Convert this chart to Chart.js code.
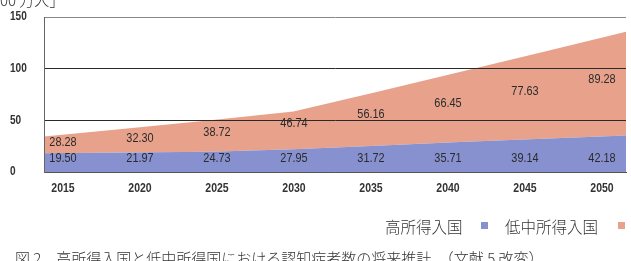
<!DOCTYPE html>
<html>
<head>
<meta charset="utf-8">
<script src="https://cdn.jsdelivr.net/npm/chart.js@4.4.1/dist/chart.umd.min.js"></script>
<style>
  html, body { margin: 0; padding: 0; background: #fff; }
  #wrap { position: relative; width: 631px; height: 261px; overflow: hidden; }
  #chartBox { position: absolute; left: 0; top: 0; width: 631px; height: 261px; }
  .jp { position: absolute; font-family: "Noto Sans CJK JP", sans-serif; color: #333; font-weight: 300; white-space: nowrap; line-height: 1; }
  .sq { position: absolute; width: 7px; height: 7px; }
</style>
</head>
<body>
<div id="wrap">
  <div id="chartBox"><canvas id="c"></canvas></div>
  <div class="jp" style="left:0px; top:-8px; font-size:15px;">00 万人」</div>
  <div class="jp" style="left:385px; top:219px; font-size:15.5px;">高所得入国</div>
  <div class="sq" style="left:481px; top:222px; background:#8791cf;"></div>
  <div class="jp" style="left:505px; top:219px; font-size:15.5px;">低中所得入国</div>
  <div class="sq" style="left:618px; top:222px; background:#e8a28b;"></div>
  <div class="jp" style="left:15px; top:250px; font-size:15px;">図 2　高所得入国と低中所得国における認知症者数の将来推計　（文献 5 改変）</div>
</div>
<script>
// ---- data ----
const categories = ['2015', '2020', '2025', '2030', '2035', '2040', '2045', '2050'];
// printed values
const highIncomeLabels = [19.50, 21.97, 24.73, 27.95, 31.72, 35.71, 39.14, 42.18];
const lowMidLabels = [28.28, 32.30, 38.72, 46.74, 56.16, 66.45, 77.63, 89.28];
// area heights as drawn in the picture (stacked)
const highIncomeArea = [18.2, 18.9, 19.5, 22.0, 25.5, 29.0, 32.2, 35.4];
const lowMidArea = [16.2, 23.3, 30.5, 36.5, 51.9, 67.7, 84.0, 100.3];
const yTicks = [0, 50, 100, 150];

const FONT = "'Liberation Sans', Arial, sans-serif";
const BLUE_LABEL_LEVEL = 13;
const SQUEEZE = 0.84;

function narrowText(ctx, text, x, y, align) {
  ctx.save();
  ctx.translate(x, y);
  ctx.scale(SQUEEZE, 1);
  ctx.textAlign = align;
  ctx.fillText(text, 0, 0);
  ctx.restore();
}

const valueLabels = {
  id: 'valueLabels',
  afterDatasetsDraw(chart) {
    const { ctx, scales } = chart;
    const xs = scales.xt, ys = scales.y;
    ctx.save();
    ctx.font = '13px ' + FONT;
    ctx.fillStyle = '#2b2b2b';
    ctx.textBaseline = 'middle';
    categories.forEach((c, i) => {
      const x = xs.getPixelForValue(i);
      narrowText(ctx, lowMidLabels[i].toFixed(2), x, ys.getPixelForValue(lowMidLabels[i]), 'center');
      narrowText(ctx, highIncomeLabels[i].toFixed(2), x, ys.getPixelForValue(BLUE_LABEL_LEVEL), 'center');
    });
    ctx.restore();
  },
  afterDraw(chart) {
    const { ctx, scales } = chart;
    const xs = scales.xt, ys = scales.y;
    ctx.save();
    ctx.fillStyle = '#333';
    ctx.textBaseline = 'middle';
    ctx.font = 'bold 12.5px ' + FONT;
    categories.forEach((c, i) => {
      narrowText(ctx, c, xs.getPixelForValue(i), xs.top + 17, 'center');
    });
    ctx.font = 'bold 12px ' + FONT;
    yTicks.forEach(v => {
      narrowText(ctx, String(v), 10, ys.getPixelForValue(v), 'left');
    });
    ctx.restore();
  }
};

new Chart(document.getElementById('c'), {
  type: 'line',
  data: {
    labels: categories,
    datasets: [
      { label: '高所得入国', data: highIncomeArea, backgroundColor: '#8791cf', borderWidth: 0, pointRadius: 0, fill: 'origin', tension: 0 },
      { label: '低中所得入国', data: lowMidArea, backgroundColor: '#e8a28b', borderWidth: 0, pointRadius: 0, fill: '-1', tension: 0 }
    ]
  },
  options: {
    responsive: true,
    maintainAspectRatio: false,
    animation: false,
    layout: { padding: { left: 10, right: 5, top: 17, bottom: 0 } },
    plugins: { legend: { display: false }, tooltip: { enabled: false } },
    scales: {
      x: { type: 'category', display: false, offset: false },
      xt: {
        type: 'linear', position: 'bottom',
        min: -0.2468, max: 7.3117,
        afterBuildTicks: (s) => { s.ticks = categories.map((c, i) => ({ value: i })); },
        afterFit: (s) => { s.height = 89; },
        grid: { display: false, drawTicks: false },
        border: { display: true, color: '#555', width: 1, z: 1 },
        ticks: { display: false }
      },
      y: {
        stacked: true, min: 0, max: 150,
        afterBuildTicks: (s) => { s.ticks = yTicks.map(v => ({ value: v })); },
        afterFit: (s) => { s.width = 34; },
        grid: {
          z: 1,
          drawTicks: false,
          color: (ctx) => ctx.tick && ctx.tick.value === 150 ? '#888' : (ctx.tick && ctx.tick.value === 0 ? '#555' : '#2a2a2a'),
          lineWidth: 1
        },
        border: { display: true, color: '#666', width: 1, z: 1 },
        ticks: { display: false }
      }
    }
  },
  plugins: [valueLabels]
});
</script>
</body>
</html>
